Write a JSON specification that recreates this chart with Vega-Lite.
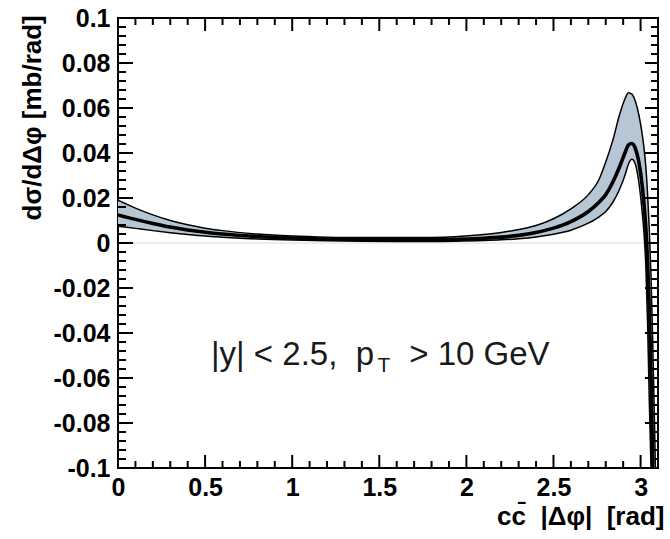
{
  "$schema": "https://vega.github.io/schema/vega-lite/v6.json",
  "width": 540,
  "height": 450,
  "autosize": "none",
  "padding": {"left": 118, "top": 18, "right": 12, "bottom": 71},
  "background": "white",
  "config": {
    "view": {"stroke": "black", "strokeWidth": 2},
    "font": "Liberation Sans",
    "axis": {
      "domain": false,
      "ticks": false,
      "grid": false,
      "labelFont": "Liberation Sans",
      "labelFontWeight": "bold",
      "labelFontSize": 25,
      "labelColor": "black",
      "labelOverlap": false,
      "labelFlush": false,
      "titleFont": "Liberation Sans",
      "titleFontWeight": "bold",
      "titleColor": "black"
    }
  },
  "datasets": {
    "frameticks": [
      {"s":"b01","x":0.1,"v":-0.1},{"s":"b01","x":0.1,"v":-0.0969},
      {"s":"b02","x":0.2,"v":-0.1},{"s":"b02","x":0.2,"v":-0.0969},
      {"s":"b03","x":0.3,"v":-0.1},{"s":"b03","x":0.3,"v":-0.0969},
      {"s":"b04","x":0.4,"v":-0.1},{"s":"b04","x":0.4,"v":-0.0969},
      {"s":"b05","x":0.5,"v":-0.1},{"s":"b05","x":0.5,"v":-0.0942},
      {"s":"b06","x":0.6,"v":-0.1},{"s":"b06","x":0.6,"v":-0.0969},
      {"s":"b07","x":0.7,"v":-0.1},{"s":"b07","x":0.7,"v":-0.0969},
      {"s":"b08","x":0.8,"v":-0.1},{"s":"b08","x":0.8,"v":-0.0969},
      {"s":"b09","x":0.9,"v":-0.1},{"s":"b09","x":0.9,"v":-0.0969},
      {"s":"b10","x":1.0,"v":-0.1},{"s":"b10","x":1.0,"v":-0.0942},
      {"s":"b11","x":1.1,"v":-0.1},{"s":"b11","x":1.1,"v":-0.0969},
      {"s":"b12","x":1.2,"v":-0.1},{"s":"b12","x":1.2,"v":-0.0969},
      {"s":"b13","x":1.3,"v":-0.1},{"s":"b13","x":1.3,"v":-0.0969},
      {"s":"b14","x":1.4,"v":-0.1},{"s":"b14","x":1.4,"v":-0.0969},
      {"s":"b15","x":1.5,"v":-0.1},{"s":"b15","x":1.5,"v":-0.0942},
      {"s":"b16","x":1.6,"v":-0.1},{"s":"b16","x":1.6,"v":-0.0969},
      {"s":"b17","x":1.7,"v":-0.1},{"s":"b17","x":1.7,"v":-0.0969},
      {"s":"b18","x":1.8,"v":-0.1},{"s":"b18","x":1.8,"v":-0.0969},
      {"s":"b19","x":1.9,"v":-0.1},{"s":"b19","x":1.9,"v":-0.0969},
      {"s":"b20","x":2.0,"v":-0.1},{"s":"b20","x":2.0,"v":-0.0942},
      {"s":"b21","x":2.1,"v":-0.1},{"s":"b21","x":2.1,"v":-0.0969},
      {"s":"b22","x":2.2,"v":-0.1},{"s":"b22","x":2.2,"v":-0.0969},
      {"s":"b23","x":2.3,"v":-0.1},{"s":"b23","x":2.3,"v":-0.0969},
      {"s":"b24","x":2.4,"v":-0.1},{"s":"b24","x":2.4,"v":-0.0969},
      {"s":"b25","x":2.5,"v":-0.1},{"s":"b25","x":2.5,"v":-0.0942},
      {"s":"b26","x":2.6,"v":-0.1},{"s":"b26","x":2.6,"v":-0.0969},
      {"s":"b27","x":2.7,"v":-0.1},{"s":"b27","x":2.7,"v":-0.0969},
      {"s":"b28","x":2.8,"v":-0.1},{"s":"b28","x":2.8,"v":-0.0969},
      {"s":"b29","x":2.9,"v":-0.1},{"s":"b29","x":2.9,"v":-0.0969},
      {"s":"b30","x":3.0,"v":-0.1},{"s":"b30","x":3.0,"v":-0.0942},
      {"s":"t01","x":0.1,"v":0.1},{"s":"t01","x":0.1,"v":0.0969},
      {"s":"t02","x":0.2,"v":0.1},{"s":"t02","x":0.2,"v":0.0969},
      {"s":"t03","x":0.3,"v":0.1},{"s":"t03","x":0.3,"v":0.0969},
      {"s":"t04","x":0.4,"v":0.1},{"s":"t04","x":0.4,"v":0.0969},
      {"s":"t05","x":0.5,"v":0.1},{"s":"t05","x":0.5,"v":0.0942},
      {"s":"t06","x":0.6,"v":0.1},{"s":"t06","x":0.6,"v":0.0969},
      {"s":"t07","x":0.7,"v":0.1},{"s":"t07","x":0.7,"v":0.0969},
      {"s":"t08","x":0.8,"v":0.1},{"s":"t08","x":0.8,"v":0.0969},
      {"s":"t09","x":0.9,"v":0.1},{"s":"t09","x":0.9,"v":0.0969},
      {"s":"t10","x":1.0,"v":0.1},{"s":"t10","x":1.0,"v":0.0942},
      {"s":"t11","x":1.1,"v":0.1},{"s":"t11","x":1.1,"v":0.0969},
      {"s":"t12","x":1.2,"v":0.1},{"s":"t12","x":1.2,"v":0.0969},
      {"s":"t13","x":1.3,"v":0.1},{"s":"t13","x":1.3,"v":0.0969},
      {"s":"t14","x":1.4,"v":0.1},{"s":"t14","x":1.4,"v":0.0969},
      {"s":"t15","x":1.5,"v":0.1},{"s":"t15","x":1.5,"v":0.0942},
      {"s":"t16","x":1.6,"v":0.1},{"s":"t16","x":1.6,"v":0.0969},
      {"s":"t17","x":1.7,"v":0.1},{"s":"t17","x":1.7,"v":0.0969},
      {"s":"t18","x":1.8,"v":0.1},{"s":"t18","x":1.8,"v":0.0969},
      {"s":"t19","x":1.9,"v":0.1},{"s":"t19","x":1.9,"v":0.0969},
      {"s":"t20","x":2.0,"v":0.1},{"s":"t20","x":2.0,"v":0.0942},
      {"s":"t21","x":2.1,"v":0.1},{"s":"t21","x":2.1,"v":0.0969},
      {"s":"t22","x":2.2,"v":0.1},{"s":"t22","x":2.2,"v":0.0969},
      {"s":"t23","x":2.3,"v":0.1},{"s":"t23","x":2.3,"v":0.0969},
      {"s":"t24","x":2.4,"v":0.1},{"s":"t24","x":2.4,"v":0.0969},
      {"s":"t25","x":2.5,"v":0.1},{"s":"t25","x":2.5,"v":0.0942},
      {"s":"t26","x":2.6,"v":0.1},{"s":"t26","x":2.6,"v":0.0969},
      {"s":"t27","x":2.7,"v":0.1},{"s":"t27","x":2.7,"v":0.0969},
      {"s":"t28","x":2.8,"v":0.1},{"s":"t28","x":2.8,"v":0.0969},
      {"s":"t29","x":2.9,"v":0.1},{"s":"t29","x":2.9,"v":0.0969},
      {"s":"t30","x":3.0,"v":0.1},{"s":"t30","x":3.0,"v":0.0942},
      {"s":"l01","x":0,"v":-0.096},{"s":"l01","x":0.046,"v":-0.096},
      {"s":"l02","x":0,"v":-0.092},{"s":"l02","x":0.046,"v":-0.092},
      {"s":"l03","x":0,"v":-0.088},{"s":"l03","x":0.046,"v":-0.088},
      {"s":"l04","x":0,"v":-0.084},{"s":"l04","x":0.046,"v":-0.084},
      {"s":"l05","x":0,"v":-0.08},{"s":"l05","x":0.086,"v":-0.08},
      {"s":"l06","x":0,"v":-0.076},{"s":"l06","x":0.046,"v":-0.076},
      {"s":"l07","x":0,"v":-0.072},{"s":"l07","x":0.046,"v":-0.072},
      {"s":"l08","x":0,"v":-0.068},{"s":"l08","x":0.046,"v":-0.068},
      {"s":"l09","x":0,"v":-0.064},{"s":"l09","x":0.046,"v":-0.064},
      {"s":"l10","x":0,"v":-0.06},{"s":"l10","x":0.086,"v":-0.06},
      {"s":"l11","x":0,"v":-0.056},{"s":"l11","x":0.046,"v":-0.056},
      {"s":"l12","x":0,"v":-0.052},{"s":"l12","x":0.046,"v":-0.052},
      {"s":"l13","x":0,"v":-0.048},{"s":"l13","x":0.046,"v":-0.048},
      {"s":"l14","x":0,"v":-0.044},{"s":"l14","x":0.046,"v":-0.044},
      {"s":"l15","x":0,"v":-0.04},{"s":"l15","x":0.086,"v":-0.04},
      {"s":"l16","x":0,"v":-0.036},{"s":"l16","x":0.046,"v":-0.036},
      {"s":"l17","x":0,"v":-0.032},{"s":"l17","x":0.046,"v":-0.032},
      {"s":"l18","x":0,"v":-0.028},{"s":"l18","x":0.046,"v":-0.028},
      {"s":"l19","x":0,"v":-0.024},{"s":"l19","x":0.046,"v":-0.024},
      {"s":"l20","x":0,"v":-0.02},{"s":"l20","x":0.086,"v":-0.02},
      {"s":"l21","x":0,"v":-0.016},{"s":"l21","x":0.046,"v":-0.016},
      {"s":"l22","x":0,"v":-0.012},{"s":"l22","x":0.046,"v":-0.012},
      {"s":"l23","x":0,"v":-0.008},{"s":"l23","x":0.046,"v":-0.008},
      {"s":"l24","x":0,"v":-0.004},{"s":"l24","x":0.046,"v":-0.004},
      {"s":"l25","x":0,"v":0},{"s":"l25","x":0.086,"v":0},
      {"s":"l26","x":0,"v":0.004},{"s":"l26","x":0.046,"v":0.004},
      {"s":"l27","x":0,"v":0.008},{"s":"l27","x":0.046,"v":0.008},
      {"s":"l28","x":0,"v":0.012},{"s":"l28","x":0.046,"v":0.012},
      {"s":"l29","x":0,"v":0.016},{"s":"l29","x":0.046,"v":0.016},
      {"s":"l30","x":0,"v":0.02},{"s":"l30","x":0.086,"v":0.02},
      {"s":"l31","x":0,"v":0.024},{"s":"l31","x":0.046,"v":0.024},
      {"s":"l32","x":0,"v":0.028},{"s":"l32","x":0.046,"v":0.028},
      {"s":"l33","x":0,"v":0.032},{"s":"l33","x":0.046,"v":0.032},
      {"s":"l34","x":0,"v":0.036},{"s":"l34","x":0.046,"v":0.036},
      {"s":"l35","x":0,"v":0.04},{"s":"l35","x":0.086,"v":0.04},
      {"s":"l36","x":0,"v":0.044},{"s":"l36","x":0.046,"v":0.044},
      {"s":"l37","x":0,"v":0.048},{"s":"l37","x":0.046,"v":0.048},
      {"s":"l38","x":0,"v":0.052},{"s":"l38","x":0.046,"v":0.052},
      {"s":"l39","x":0,"v":0.056},{"s":"l39","x":0.046,"v":0.056},
      {"s":"l40","x":0,"v":0.06},{"s":"l40","x":0.086,"v":0.06},
      {"s":"l41","x":0,"v":0.064},{"s":"l41","x":0.046,"v":0.064},
      {"s":"l42","x":0,"v":0.068},{"s":"l42","x":0.046,"v":0.068},
      {"s":"l43","x":0,"v":0.072},{"s":"l43","x":0.046,"v":0.072},
      {"s":"l44","x":0,"v":0.076},{"s":"l44","x":0.046,"v":0.076},
      {"s":"l45","x":0,"v":0.08},{"s":"l45","x":0.086,"v":0.08},
      {"s":"l46","x":0,"v":0.084},{"s":"l46","x":0.046,"v":0.084},
      {"s":"l47","x":0,"v":0.088},{"s":"l47","x":0.046,"v":0.088},
      {"s":"l48","x":0,"v":0.092},{"s":"l48","x":0.046,"v":0.092},
      {"s":"l49","x":0,"v":0.096},{"s":"l49","x":0.046,"v":0.096},
      {"s":"r01","x":3.06,"v":-0.096},{"s":"r01","x":3.1,"v":-0.096},
      {"s":"r02","x":3.06,"v":-0.092},{"s":"r02","x":3.1,"v":-0.092},
      {"s":"r03","x":3.06,"v":-0.088},{"s":"r03","x":3.1,"v":-0.088},
      {"s":"r04","x":3.06,"v":-0.084},{"s":"r04","x":3.1,"v":-0.084},
      {"s":"r05","x":3.025,"v":-0.08},{"s":"r05","x":3.1,"v":-0.08},
      {"s":"r06","x":3.06,"v":-0.076},{"s":"r06","x":3.1,"v":-0.076},
      {"s":"r07","x":3.06,"v":-0.072},{"s":"r07","x":3.1,"v":-0.072},
      {"s":"r08","x":3.06,"v":-0.068},{"s":"r08","x":3.1,"v":-0.068},
      {"s":"r09","x":3.06,"v":-0.064},{"s":"r09","x":3.1,"v":-0.064},
      {"s":"r10","x":3.025,"v":-0.06},{"s":"r10","x":3.1,"v":-0.06},
      {"s":"r11","x":3.06,"v":-0.056},{"s":"r11","x":3.1,"v":-0.056},
      {"s":"r12","x":3.06,"v":-0.052},{"s":"r12","x":3.1,"v":-0.052},
      {"s":"r13","x":3.06,"v":-0.048},{"s":"r13","x":3.1,"v":-0.048},
      {"s":"r14","x":3.06,"v":-0.044},{"s":"r14","x":3.1,"v":-0.044},
      {"s":"r15","x":3.025,"v":-0.04},{"s":"r15","x":3.1,"v":-0.04},
      {"s":"r16","x":3.06,"v":-0.036},{"s":"r16","x":3.1,"v":-0.036},
      {"s":"r17","x":3.06,"v":-0.032},{"s":"r17","x":3.1,"v":-0.032},
      {"s":"r18","x":3.06,"v":-0.028},{"s":"r18","x":3.1,"v":-0.028},
      {"s":"r19","x":3.06,"v":-0.024},{"s":"r19","x":3.1,"v":-0.024},
      {"s":"r20","x":3.025,"v":-0.02},{"s":"r20","x":3.1,"v":-0.02},
      {"s":"r21","x":3.06,"v":-0.016},{"s":"r21","x":3.1,"v":-0.016},
      {"s":"r22","x":3.06,"v":-0.012},{"s":"r22","x":3.1,"v":-0.012},
      {"s":"r23","x":3.06,"v":-0.008},{"s":"r23","x":3.1,"v":-0.008},
      {"s":"r24","x":3.06,"v":-0.004},{"s":"r24","x":3.1,"v":-0.004},
      {"s":"r25","x":3.025,"v":0},{"s":"r25","x":3.1,"v":0},
      {"s":"r26","x":3.06,"v":0.004},{"s":"r26","x":3.1,"v":0.004},
      {"s":"r27","x":3.06,"v":0.008},{"s":"r27","x":3.1,"v":0.008},
      {"s":"r28","x":3.06,"v":0.012},{"s":"r28","x":3.1,"v":0.012},
      {"s":"r29","x":3.06,"v":0.016},{"s":"r29","x":3.1,"v":0.016},
      {"s":"r30","x":3.025,"v":0.02},{"s":"r30","x":3.1,"v":0.02},
      {"s":"r31","x":3.06,"v":0.024},{"s":"r31","x":3.1,"v":0.024},
      {"s":"r32","x":3.06,"v":0.028},{"s":"r32","x":3.1,"v":0.028},
      {"s":"r33","x":3.06,"v":0.032},{"s":"r33","x":3.1,"v":0.032},
      {"s":"r34","x":3.06,"v":0.036},{"s":"r34","x":3.1,"v":0.036},
      {"s":"r35","x":3.025,"v":0.04},{"s":"r35","x":3.1,"v":0.04},
      {"s":"r36","x":3.06,"v":0.044},{"s":"r36","x":3.1,"v":0.044},
      {"s":"r37","x":3.06,"v":0.048},{"s":"r37","x":3.1,"v":0.048},
      {"s":"r38","x":3.06,"v":0.052},{"s":"r38","x":3.1,"v":0.052},
      {"s":"r39","x":3.06,"v":0.056},{"s":"r39","x":3.1,"v":0.056},
      {"s":"r40","x":3.025,"v":0.06},{"s":"r40","x":3.1,"v":0.06},
      {"s":"r41","x":3.06,"v":0.064},{"s":"r41","x":3.1,"v":0.064},
      {"s":"r42","x":3.06,"v":0.068},{"s":"r42","x":3.1,"v":0.068},
      {"s":"r43","x":3.06,"v":0.072},{"s":"r43","x":3.1,"v":0.072},
      {"s":"r44","x":3.06,"v":0.076},{"s":"r44","x":3.1,"v":0.076},
      {"s":"r45","x":3.025,"v":0.08},{"s":"r45","x":3.1,"v":0.08},
      {"s":"r46","x":3.06,"v":0.084},{"s":"r46","x":3.1,"v":0.084},
      {"s":"r47","x":3.06,"v":0.088},{"s":"r47","x":3.1,"v":0.088},
      {"s":"r48","x":3.06,"v":0.092},{"s":"r48","x":3.1,"v":0.092},
      {"s":"r49","x":3.06,"v":0.096},{"s":"r49","x":3.1,"v":0.096}
    ],
    "band": [
      {"x": 0, "lo": 0.0075, "hi": 0.019},
      {"x": 0.1, "lo": 0.0065, "hi": 0.0155},
      {"x": 0.2, "lo": 0.0055, "hi": 0.0125},
      {"x": 0.3, "lo": 0.0046, "hi": 0.01},
      {"x": 0.4, "lo": 0.0038, "hi": 0.0081},
      {"x": 0.5, "lo": 0.0031, "hi": 0.0066},
      {"x": 0.6, "lo": 0.0026, "hi": 0.0055},
      {"x": 0.8, "lo": 0.0018, "hi": 0.004},
      {"x": 1.0, "lo": 0.0013, "hi": 0.0031},
      {"x": 1.2, "lo": 0.001, "hi": 0.0026},
      {"x": 1.4, "lo": 0.0008, "hi": 0.0024},
      {"x": 1.6, "lo": 0.0007, "hi": 0.0024},
      {"x": 1.8, "lo": 0.0007, "hi": 0.0025},
      {"x": 1.93, "lo": 0.0008, "hi": 0.0028},
      {"x": 2.1, "lo": 0.0011, "hi": 0.0038},
      {"x": 2.2, "lo": 0.0014, "hi": 0.0047},
      {"x": 2.3, "lo": 0.0019, "hi": 0.006},
      {"x": 2.4, "lo": 0.0027, "hi": 0.0078},
      {"x": 2.5, "lo": 0.0039, "hi": 0.0108},
      {"x": 2.6, "lo": 0.0057, "hi": 0.0152},
      {"x": 2.7, "lo": 0.0088, "hi": 0.0215},
      {"x": 2.76, "lo": 0.0115, "hi": 0.028},
      {"x": 2.8, "lo": 0.014, "hi": 0.036},
      {"x": 2.84, "lo": 0.018, "hi": 0.0455},
      {"x": 2.88, "lo": 0.024, "hi": 0.0572},
      {"x": 2.91, "lo": 0.03, "hi": 0.064},
      {"x": 2.93, "lo": 0.035, "hi": 0.0668},
      {"x": 2.95, "lo": 0.0372, "hi": 0.0662},
      {"x": 2.97, "lo": 0.035, "hi": 0.063},
      {"x": 2.99, "lo": 0.027, "hi": 0.057},
      {"x": 3.01, "lo": 0.013, "hi": 0.048},
      {"x": 3.02, "lo": 0.004, "hi": 0.042},
      {"x": 3.03, "lo": -0.01, "hi": 0.034},
      {"x": 3.04, "lo": -0.035, "hi": 0.022},
      {"x": 3.05, "lo": -0.07, "hi": 0.006},
      {"x": 3.06, "lo": -0.1, "hi": -0.015},
      {"x": 3.07, "lo": -0.1, "hi": -0.045},
      {"x": 3.08, "lo": -0.1, "hi": -0.08},
      {"x": 3.085, "lo": -0.1, "hi": -0.1}
    ],
    "curves": [
      {"curve": "upper", "x": 0, "v": 0.019},
      {"curve": "upper", "x": 0.1, "v": 0.0155},
      {"curve": "upper", "x": 0.2, "v": 0.0125},
      {"curve": "upper", "x": 0.3, "v": 0.01},
      {"curve": "upper", "x": 0.4, "v": 0.0081},
      {"curve": "upper", "x": 0.5, "v": 0.0066},
      {"curve": "upper", "x": 0.6, "v": 0.0055},
      {"curve": "upper", "x": 0.8, "v": 0.004},
      {"curve": "upper", "x": 1.0, "v": 0.0031},
      {"curve": "upper", "x": 1.2, "v": 0.0026},
      {"curve": "upper", "x": 1.4, "v": 0.0024},
      {"curve": "upper", "x": 1.6, "v": 0.0024},
      {"curve": "upper", "x": 1.8, "v": 0.0025},
      {"curve": "upper", "x": 1.93, "v": 0.0028},
      {"curve": "upper", "x": 2.1, "v": 0.0038},
      {"curve": "upper", "x": 2.2, "v": 0.0047},
      {"curve": "upper", "x": 2.3, "v": 0.006},
      {"curve": "upper", "x": 2.4, "v": 0.0078},
      {"curve": "upper", "x": 2.5, "v": 0.0108},
      {"curve": "upper", "x": 2.6, "v": 0.0152},
      {"curve": "upper", "x": 2.7, "v": 0.0215},
      {"curve": "upper", "x": 2.76, "v": 0.028},
      {"curve": "upper", "x": 2.8, "v": 0.036},
      {"curve": "upper", "x": 2.84, "v": 0.0455},
      {"curve": "upper", "x": 2.88, "v": 0.0572},
      {"curve": "upper", "x": 2.91, "v": 0.064},
      {"curve": "upper", "x": 2.93, "v": 0.0668},
      {"curve": "upper", "x": 2.95, "v": 0.0662},
      {"curve": "upper", "x": 2.97, "v": 0.063},
      {"curve": "upper", "x": 2.99, "v": 0.057},
      {"curve": "upper", "x": 3.01, "v": 0.048},
      {"curve": "upper", "x": 3.02, "v": 0.042},
      {"curve": "upper", "x": 3.03, "v": 0.034},
      {"curve": "upper", "x": 3.04, "v": 0.022},
      {"curve": "upper", "x": 3.05, "v": 0.006},
      {"curve": "upper", "x": 3.06, "v": -0.015},
      {"curve": "upper", "x": 3.07, "v": -0.045},
      {"curve": "upper", "x": 3.08, "v": -0.08},
      {"curve": "upper", "x": 3.085, "v": -0.1},
      {"curve": "central", "x": 0, "v": 0.0125},
      {"curve": "central", "x": 0.1, "v": 0.0105},
      {"curve": "central", "x": 0.2, "v": 0.0087},
      {"curve": "central", "x": 0.3, "v": 0.0071},
      {"curve": "central", "x": 0.4, "v": 0.0058},
      {"curve": "central", "x": 0.5, "v": 0.0048},
      {"curve": "central", "x": 0.6, "v": 0.004},
      {"curve": "central", "x": 0.8, "v": 0.0029},
      {"curve": "central", "x": 1.0, "v": 0.0022},
      {"curve": "central", "x": 1.2, "v": 0.0018},
      {"curve": "central", "x": 1.4, "v": 0.0016},
      {"curve": "central", "x": 1.6, "v": 0.0015},
      {"curve": "central", "x": 1.8, "v": 0.0015},
      {"curve": "central", "x": 1.93, "v": 0.0016},
      {"curve": "central", "x": 2.1, "v": 0.0021},
      {"curve": "central", "x": 2.2, "v": 0.0026},
      {"curve": "central", "x": 2.3, "v": 0.0034},
      {"curve": "central", "x": 2.4, "v": 0.0047},
      {"curve": "central", "x": 2.5, "v": 0.0066},
      {"curve": "central", "x": 2.6, "v": 0.0095},
      {"curve": "central", "x": 2.7, "v": 0.014},
      {"curve": "central", "x": 2.76, "v": 0.018},
      {"curve": "central", "x": 2.8, "v": 0.0215},
      {"curve": "central", "x": 2.84, "v": 0.027},
      {"curve": "central", "x": 2.88, "v": 0.034},
      {"curve": "central", "x": 2.91, "v": 0.04},
      {"curve": "central", "x": 2.93, "v": 0.0435},
      {"curve": "central", "x": 2.95, "v": 0.0442},
      {"curve": "central", "x": 2.97, "v": 0.042},
      {"curve": "central", "x": 2.99, "v": 0.036},
      {"curve": "central", "x": 3.01, "v": 0.025},
      {"curve": "central", "x": 3.02, "v": 0.017},
      {"curve": "central", "x": 3.03, "v": 0.007},
      {"curve": "central", "x": 3.04, "v": -0.008},
      {"curve": "central", "x": 3.05, "v": -0.03},
      {"curve": "central", "x": 3.06, "v": -0.06},
      {"curve": "central", "x": 3.07, "v": -0.1},
      {"curve": "lower", "x": 0, "v": 0.0075},
      {"curve": "lower", "x": 0.1, "v": 0.0065},
      {"curve": "lower", "x": 0.2, "v": 0.0055},
      {"curve": "lower", "x": 0.3, "v": 0.0046},
      {"curve": "lower", "x": 0.4, "v": 0.0038},
      {"curve": "lower", "x": 0.5, "v": 0.0031},
      {"curve": "lower", "x": 0.6, "v": 0.0026},
      {"curve": "lower", "x": 0.8, "v": 0.0018},
      {"curve": "lower", "x": 1.0, "v": 0.0013},
      {"curve": "lower", "x": 1.2, "v": 0.001},
      {"curve": "lower", "x": 1.4, "v": 0.0008},
      {"curve": "lower", "x": 1.6, "v": 0.0007},
      {"curve": "lower", "x": 1.8, "v": 0.0007},
      {"curve": "lower", "x": 1.93, "v": 0.0008},
      {"curve": "lower", "x": 2.1, "v": 0.0011},
      {"curve": "lower", "x": 2.2, "v": 0.0014},
      {"curve": "lower", "x": 2.3, "v": 0.0019},
      {"curve": "lower", "x": 2.4, "v": 0.0027},
      {"curve": "lower", "x": 2.5, "v": 0.0039},
      {"curve": "lower", "x": 2.6, "v": 0.0057},
      {"curve": "lower", "x": 2.7, "v": 0.0088},
      {"curve": "lower", "x": 2.76, "v": 0.0115},
      {"curve": "lower", "x": 2.8, "v": 0.014},
      {"curve": "lower", "x": 2.84, "v": 0.018},
      {"curve": "lower", "x": 2.88, "v": 0.024},
      {"curve": "lower", "x": 2.91, "v": 0.03},
      {"curve": "lower", "x": 2.93, "v": 0.035},
      {"curve": "lower", "x": 2.95, "v": 0.0372},
      {"curve": "lower", "x": 2.97, "v": 0.035},
      {"curve": "lower", "x": 2.99, "v": 0.027},
      {"curve": "lower", "x": 3.01, "v": 0.013},
      {"curve": "lower", "x": 3.02, "v": 0.004},
      {"curve": "lower", "x": 3.03, "v": -0.01},
      {"curve": "lower", "x": 3.04, "v": -0.035},
      {"curve": "lower", "x": 3.05, "v": -0.07},
      {"curve": "lower", "x": 3.06, "v": -0.1}
    ]
  },
  "layer": [
    {
      "data": {"values": [{}]},
      "mark": {"type": "rule", "color": "#dcdcdc", "strokeWidth": 1},
      "encoding": {
        "y": {"datum": 0, "type": "quantitative", "scale": {"domain": [-0.1, 0.1], "nice": false, "zero": false}, "axis": null}
      }
    },
    {
      "data": {"name": "band"},
      "mark": {"type": "area", "interpolate": "monotone", "color": "#b7c6d5", "opacity": 1, "clip": true},
      "encoding": {
        "x": {
          "field": "x", "type": "quantitative",
          "scale": {"domain": [0, 3.1], "nice": false, "zero": false},
          "axis": {
            "orient": "bottom",
            "values": [0, 0.5, 1, 1.5, 2, 2.5, 3],
            "labelExpr": "format(datum.value, '~g')",
            "labelPadding": 7,
            "labelBaseline": "top",
            "title": "cc̄\u00a0\u00a0|Δφ|\u00a0\u00a0[rad]",
            "titleFontSize": 26,
            "titleAnchor": "end",
            "titleAlign": "right",
            "titleBaseline": "alphabetic",
            "titleX": 546,
            "titleY": 56
          }
        },
        "y": {
          "field": "hi", "type": "quantitative",
          "scale": {"domain": [-0.1, 0.1], "nice": false, "zero": false},
          "axis": {
            "orient": "left",
            "values": [-0.1, -0.08, -0.06, -0.04, -0.02, 0, 0.02, 0.04, 0.06, 0.08, 0.1],
            "labelExpr": "(datum.value < 0 ? '-' : '') + format(abs(datum.value), '~g')",
            "labelPadding": 8,
            "title": "dσ/dΔφ [mb/rad]",
            "titleFontSize": 26,
            "titleAngle": -90,
            "titleAlign": "left",
            "titleBaseline": "alphabetic",
            "titleX": -78,
            "titleY": 202
          }
        },
        "y2": {"field": "lo"}
      }
    },
    {
      "data": {"name": "curves"},
      "transform": [{"filter": "datum.curve !== 'central'"}],
      "mark": {"type": "line", "interpolate": "monotone", "color": "black", "strokeWidth": 1.5, "clip": true},
      "encoding": {
        "x": {"field": "x", "type": "quantitative", "axis": null},
        "y": {"field": "v", "type": "quantitative", "axis": null},
        "detail": {"field": "curve"}
      }
    },
    {
      "data": {"name": "curves"},
      "transform": [{"filter": "datum.curve === 'central'"}],
      "mark": {"type": "line", "interpolate": "monotone", "color": "black", "strokeWidth": 3.6, "clip": true},
      "encoding": {
        "x": {"field": "x", "type": "quantitative", "axis": null},
        "y": {"field": "v", "type": "quantitative", "axis": null}
      }
    },
    {
      "data": {"name": "frameticks"},
      "mark": {"type": "line", "color": "black", "strokeWidth": 2, "clip": true},
      "encoding": {
        "x": {"field": "x", "type": "quantitative", "axis": null},
        "y": {"field": "v", "type": "quantitative", "axis": null},
        "detail": {"field": "s"}
      }
    },
    {
      "data": {"values": [{}]},
      "mark": {"type": "text", "text": "|y| < 2.5,\u00a0\u00a0p", "font": "Liberation Sans", "fontSize": 33, "align": "left", "baseline": "alphabetic", "color": "#1a1a1a"},
      "encoding": {
        "x": {"datum": 0.534, "type": "quantitative", "axis": null},
        "y": {"datum": -0.0542, "type": "quantitative", "axis": null}
      }
    },
    {
      "data": {"values": [{}]},
      "mark": {"type": "text", "text": "T", "font": "Liberation Sans", "fontSize": 21, "align": "left", "baseline": "alphabetic", "color": "#1a1a1a"},
      "encoding": {
        "x": {"datum": 1.49, "type": "quantitative", "axis": null},
        "y": {"datum": -0.0573, "type": "quantitative", "axis": null}
      }
    },
    {
      "data": {"values": [{}]},
      "mark": {"type": "text", "text": "> 10 GeV", "font": "Liberation Sans", "fontSize": 33, "align": "left", "baseline": "alphabetic", "color": "#1a1a1a"},
      "encoding": {
        "x": {"datum": 1.672, "type": "quantitative", "axis": null},
        "y": {"datum": -0.0542, "type": "quantitative", "axis": null}
      }
    }
  ],
  "resolve": {"axis": {"x": "independent", "y": "independent"}}
}
